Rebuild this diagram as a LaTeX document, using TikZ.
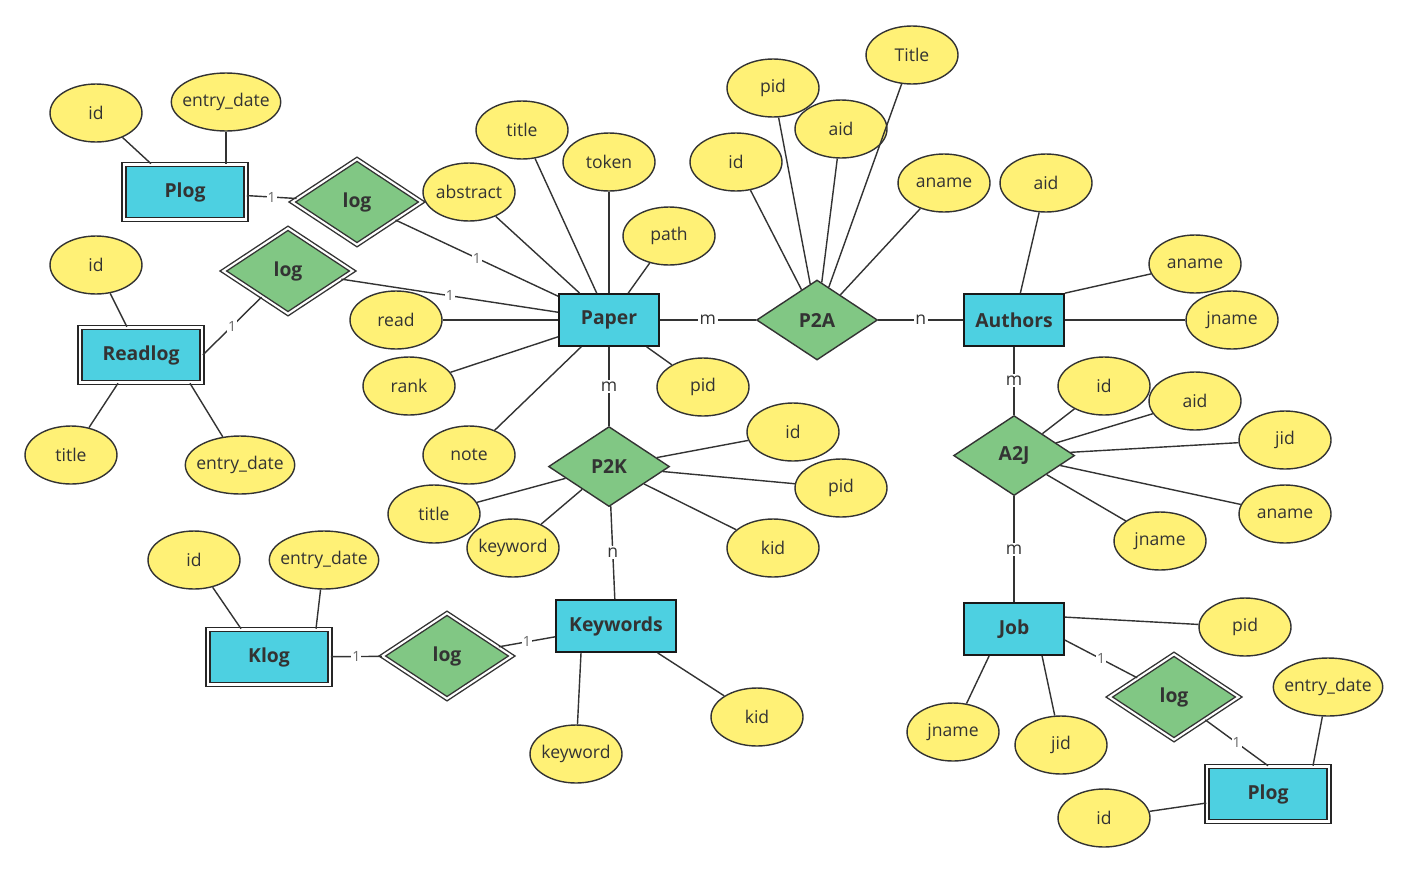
\documentclass[tikz,border=0pt]{standalone}
\usepackage{fontspec}
\setmainfont{Open Sans}
\usetikzlibrary{positioning, shapes.geometric}

\definecolor{entfill}{HTML}{4DD0E1}
\definecolor{relfill}{HTML}{81C784}
\definecolor{attfill}{HTML}{FFF176}
\definecolor{edge}{HTML}{333333}

\begin{document}
\begin{tikzpicture}[
    x=0.02cm, y=-0.02cm,
    entity/.style={rectangle, draw=black!90, line width=1pt, fill=entfill, minimum width=2cm, minimum height=1.04cm, text=edge, font=\fontsize{11}{13}\selectfont\bfseries},
    weakentity/.style={entity, draw=black!85, line width=0.9pt, double=white, double distance=1.2pt, minimum width=2.44cm, minimum height=1.1cm},
    rel/.style={diamond, draw=edge, line width=0.8pt, fill=relfill, inner sep=0pt, minimum width=2.42cm, minimum height=1.6cm, text=edge, font=\fontsize{11}{13}\selectfont\bfseries},
    weakrel/.style={rel, line width=0.8pt, double=white, double distance=1.2pt, minimum width=2.6cm, minimum height=1.72cm},
    attr/.style={ellipse, draw=edge, line width=0.8pt, fill=attfill, inner xsep=-0.1cm, inner ysep=0pt, minimum width=1.84cm, minimum height=1.16cm, text=edge, font=\fontsize{10}{12}\selectfont},
    link/.style={draw=edge, line width=0.8pt},
    card/.style={fill=white, inner sep=1pt, text=edge, font=\fontsize{10}{12}\selectfont},
    one/.style={fill=white, inner sep=0.6pt, text=black!60, font=\fontsize{8}{9}\selectfont}
]
\useasboundingbox (0,0) rectangle (1408,872);

% main entities and relationships
\node[entity] (paper) at (609,320) {Paper};
\node[rel, right=1.92cm of paper] (ptoa) {P2A};
\node[entity, right=1.7cm of ptoa] (authors) {Authors};
\node[rel, below=1.58cm of paper] (ptok) {P2K};
\node[entity, minimum width=2.4cm] (keywords) at (616,626) {Keywords};
\node[rel, below=1.36cm of authors] (atoj) {A2J};
\node[entity, below=2.12cm of atoj] (job) {Job};

% log entities
\node[weakentity] (plogA) at (185,192) {Plog};
\node[weakentity] (readlog) at (141,355) {Readlog};
\node[weakentity] (klog) at (269,657) {Klog};
\node[weakentity] (plogB) at (1268,794) {Plog};
\node[weakrel] (logA) at (357,202) {log};
\node[weakrel] (logB) at (288,271) {log};
\node[weakrel] (logC) at (447,656) {log};
\node[weakrel] (logD) at (1174,697) {log};

% attributes
\node[attr] (plogAid) at (96,113) {id};
\node[attr] (plogAdate) at (226,102) {entry\_date};
\node[attr] (rlogid) at (96,265) {id};
\node[attr] (rlogtitle) at (71,455) {title};
\node[attr] (rlogdate) at (240,465) {entry\_date};

\node[attr] (ptitle) at (522,130) {title};
\node[attr] (ptoken) at (609,162) {token};
\node[attr] (pabstract) at (469,192) {abstract};
\node[attr] (ppath) at (669,236) {path};
\node[attr] (pread) at (396,320) {read};
\node[attr] (prank) at (409,386) {rank};
\node[attr] (pnote) at (469,455) {note};
\node[attr] (ppid) at (703,387) {pid};

\node[attr] (papid) at (773,88) {pid};
\node[attr] (paaid) at (841,129) {aid};
\node[attr] (paid) at (736,162) {id};
\node[attr] (patitle) at (912,55) {Title};
\node[attr] (paaname) at (944,183) {aname};

\node[attr] (aaid) at (1046,183) {aid};
\node[attr] (aaname) at (1195,264) {aname};
\node[attr] (ajname) at (1232,320) {jname};

\node[attr] (ajid) at (1104,386) {id};
\node[attr] (ajaid) at (1195,401) {aid};
\node[attr] (ajjid) at (1285,440) {jid};
\node[attr] (ajaname) at (1285,514) {aname};
\node[attr] (ajjname) at (1160,541) {jname};

\node[attr] (pkid) at (793,432) {id};
\node[attr] (pkpid) at (841,488) {pid};
\node[attr] (pkkid) at (773,548) {kid};
\node[attr] (pktitle) at (434,514) {title};
\node[attr] (pkkeyword) at (513,548) {keyword};

\node[attr] (kkeyword) at (576,754) {keyword};
\node[attr] (kkid) at (757,717) {kid};
\node[attr] (klogid) at (194,560) {id};
\node[attr] (klogdate) at (324,560) {entry\_date};

\node[attr] (jpid) at (1245,627) {pid};
\node[attr] (jjname) at (953,732) {jname};
\node[attr] (jjid) at (1061,745) {jid};
\node[attr] (plogBdate) at (1328,687) {entry\_date};
\node[attr] (plogBid) at (1104,818) {id};

% relationship links
\draw[link] (paper) -- node[card] {m} (ptoa);
\draw[link] (ptoa) -- node[card] {n} (authors);
\draw[link] (paper) -- node[card] {m} (ptok);
\draw[link] (ptok) -- node[card] {n} (keywords);
\draw[link] (authors) -- node[card] {m} (atoj);
\draw[link] (atoj) -- node[card] {m} (job);

\draw[link] (plogA) -- node[one] {1} (logA);
\draw[link] (logA) -- node[one] {1} (paper);
\draw[link] (readlog.east) -- node[one] {1} (logB);
\draw[link] (logB) -- node[one] {1} (paper);
\draw[link] (klog) -- node[one] {1} (logC);
\draw[link] (logC) -- node[one] {1} (keywords);
\draw[link] ([yshift=-0.22cm]job.east) -- node[one] {1} (logD);
\draw[link] (logD) -- node[one] {1} (plogB.north);

% attribute links
\draw[link] ([xshift=-0.68cm]plogA.north) -- (plogAid);
\draw[link] (plogA.north -| plogAdate) -- (plogAdate);
\draw[link] (readlog) -- (rlogid);
\draw[link] ([xshift=-0.46cm]readlog.south) -- (rlogtitle);
\draw[link] ([xshift=0.98cm]readlog.south) -- (rlogdate);
\foreach \a in {ptitle, ptoken, pabstract, ppath, pread, prank, pnote, ppid} \draw[link] (paper) -- (\a);
\foreach \a in {papid, paaid, paid, patitle, paaname} \draw[link] (ptoa) -- (\a);
\draw[link] (authors) -- (aaid);
\draw[link] (authors.north east) -- (aaname);
\draw[link] (authors) -- (ajname);
\foreach \a in {ajid, ajaid, ajjid, ajaname, ajjname} \draw[link] (atoj) -- (\a);
\foreach \a in {pkid, pkpid, pkkid, pktitle, pkkeyword} \draw[link] (ptok) -- (\a);
\draw[link] ([xshift=-0.7cm]keywords.south) -- (kkeyword);
\draw[link] (keywords) -- (kkid);
\draw[link] ([xshift=-0.56cm]klog.north) -- (klogid);
\draw[link] ([xshift=0.94cm]klog.north) -- (klogdate);
\draw[link] ([yshift=0.24cm]job.east) -- (jpid);
\draw[link] ([xshift=-0.5cm]job.south) -- (jjname);
\draw[link] ([xshift=0.56cm]job.south) -- (jjid);
\draw[link] ([xshift=0.9cm]plogB.north) -- (plogBdate);
\draw[link] (plogB) -- (plogBid);
\end{tikzpicture}
\end{document}
